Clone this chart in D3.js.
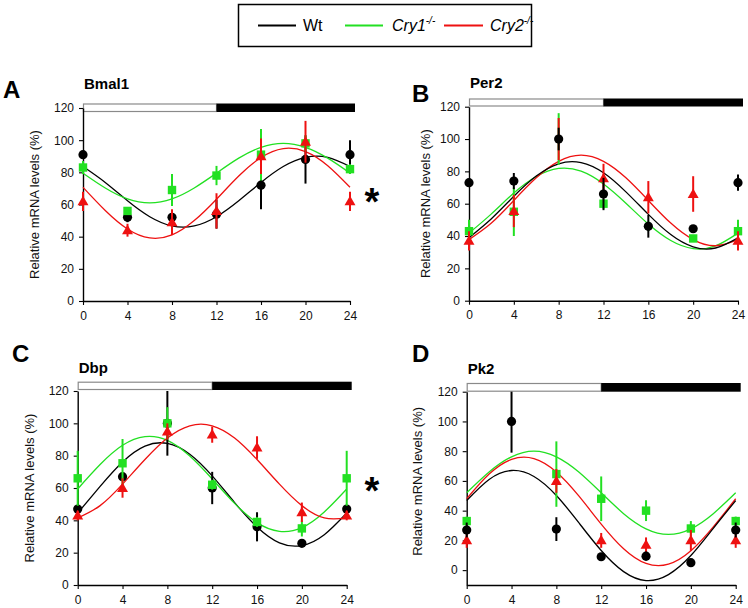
<!DOCTYPE html>
<html><head><meta charset="utf-8">
<script src="https://cdn.jsdelivr.net/npm/d3@7"></script>
<style>
body{margin:0;background:#fff;}
svg{display:block;font-family:"Liberation Sans",Arial,sans-serif;}
</style></head>
<body>
<script>
// ---------- DATA ----------
const hours = [0, 4, 8, 12, 16, 20, 24];
const fitHours = [0, 2, 4, 6, 8, 10, 12, 14, 16, 18, 20, 22, 24];
const genotypes = ["Wt", "Cry1", "Cry2"];
const yTickValues = [0, 20, 40, 60, 80, 100, 120];
const xTickLabels = ["0", "4", "8", "12", "16", "20", "24"];

// Bmal1 (A)  order: Wt, Cry1-/-, Cry2-/-
const bmal1Mean = [[91, 52, 52, 54, 72, 88, 91], [83, 56, 69, 78, 91, 98, 82], [62, 44, 49, 56, 90, 99, 62]];
const bmal1Err  = [[0, 3, 3, 9, 15, 15, 9], [4, 2, 10, 6, 16, 5, 3], [6, 4, 8, 11, 11, 13, 6]];
const bmal1Fit  = [[83.6, 73.7, 62.3, 52.4, 46.7, 46.7, 52.4, 62.3, 73.7, 83.6, 89.3, 89.3, 83.6],
                   [79.5, 70.3, 63.5, 61, 63.5, 70.3, 79.5, 88.8, 95.5, 98, 95.5, 88.8, 79.5],
                   [70.7, 56.3, 44.8, 39.2, 41.1, 50.0, 63.3, 77.7, 89.2, 94.8, 92.9, 84.1, 70.7]];

// Per2 (B)
const per2Mean = [[73, 74, 100, 66, 46, 44.5, 73], [43, 55, 100, 60, 46, 38.5, 43], [37, 55.5, 100, 75.7, 64, 66, 37]];
const per2Err  = [[0, 5, 7, 10, 7, 2, 5], [7, 15, 16, 3, 3, 2, 7], [6, 10, 13, 9, 10, 11, 6]];
const per2Fit  = [[39.0, 50.7, 64.6, 77.1, 84.7, 85.4, 79.1, 67.3, 53.4, 40.9, 33.3, 32.6, 38.9],
                  [41.8, 53.7, 66.6, 76.8, 81.8, 80.1, 72.2, 60.3, 47.4, 37.2, 32.2, 33.9, 41.8],
                  [37.8, 48, 62, 76, 86.2, 90, 86.2, 76, 62, 48, 37.8, 34, 37.8]];

// Dbp (C)
const dbpMean = [[47, 67, 100, 60, 36, 25.8, 47], [66, 75.3, 100, 62, 39, 35, 66], [43, 60, 95, 93, 85, 45, 43]];
const dbpErr  = [[1, 1, 20, 10, 9, 1, 1], [17, 15, 10, 3, 3, 5, 17], [3, 6, 5, 5, 7, 6, 3]];
const dbpFit  = [[44.5, 61, 76.1, 85.9, 87.6, 80.9, 67.5, 51, 35.9, 26.1, 24.4, 31.1, 44.5],
                 [59.4, 74.5, 86.4, 91.8, 89.5, 79.8, 65.6, 50.5, 38.6, 33.2, 35.5, 45.2, 59.4],
                 [41.5, 49.1, 62.4, 77.6, 90.9, 98.5, 98.5, 90.9, 77.6, 62.4, 49.1, 41.5, 41.5]];

// Pk2 (D)
const pk2Mean = [[27, 100, 27.6, 9, 9.4, 5, 27], [33, 100, 64.6, 48, 40, 28, 33], [20, 100, 60, 20, 17, 20, 20]];
const pk2Err  = [[5, 21, 8, 2, 3, 0, 5], [3, 0, 22, 15, 7, 5, 3], [5, 0, 8, 5, 5, 7, 5]];
const pk2Fit  = [[46.8, 61, 67, 63, 50.2, 31.9, 13.2, -1, -7, -3, 9.8, 28.1, 46.8],
                 [52, 66, 76.2, 80, 76.2, 66, 52, 38, 27.8, 24, 27.8, 38, 52],
                 [48, 64.6, 74.5, 75, 66, 49.9, 31, 14.4, 4.5, 4, 13, 29.1, 48]];

// ---------- STYLE / LAYOUT ----------
const colors = ["#000000", "#22e022", "#ee1111"];
const W = 748, H = 608;
const svg = d3.select("body").append("svg").attr("width", W).attr("height", H);

const panels = [
  {letter: "A", title: "Bmal1", mean: bmal1Mean, err: bmal1Err, fit: bmal1Fit, domain: [0, 120],
   x0: 83, x1: 350, yb: 301, yt: 108, barTop: 103.5, barH: 8.5, letterX: 3, letterY: 98, titleY: 89,
   labelX: 34, star: [372, 215], order: [0, 1, 2]},
  {letter: "B", title: "Per2", mean: per2Mean, err: per2Err, fit: per2Fit, domain: [0, 120],
   x0: 469, x1: 738, yb: 300.7, yt: 106.7, barTop: 98.5, barH: 8, letterX: 412, letterY: 102, titleY: 88,
   labelX: 425, star: null, order: [1, 2, 0]},
  {letter: "C", title: "Dbp", mean: dbpMean, err: dbpErr, fit: dbpFit, domain: [0, 120],
   x0: 77.7, x1: 346.7, yb: 585, yt: 391, barTop: 381.7, barH: 8.3, letterX: 12, letterY: 362, titleY: 373,
   labelX: 29, star: [372, 504], order: [0, 1, 2]},
  {letter: "D", title: "Pk2", mean: pk2Mean, err: pk2Err, fit: pk2Fit, domain: [-10, 120],
   x0: 466.7, x1: 735.7, yb: 585, yt: 391.7, barTop: 383, barH: 8.7, letterX: 412, letterY: 362, titleY: 373.5,
   labelX: 417, star: null, order: [1, 2, 0]}
];

function marker(g, k, cx, cy, color) {
  if (k === 0) {
    g.append("circle").attr("cx", cx).attr("cy", cy).attr("r", 4.6).attr("fill", color);
  } else if (k === 1) {
    g.append("rect").attr("x", cx - 4.2).attr("y", cy - 4.2).attr("width", 8.4).attr("height", 8.4).attr("fill", color);
  } else {
    g.append("path").attr("d", d3.symbol().type(d3.symbolTriangle).size(52)())
      .attr("transform", `translate(${cx},${cy + 0.8})`).attr("fill", color);
  }
}

panels.forEach(p => {
  const g = svg.append("g");
  const x = d3.scaleLinear().domain([0, 24]).range([p.x0, p.x1]);
  const y = d3.scaleLinear().domain([p.domain[0], 120]).range([p.yb, p.yt]);

  // letter & title
  g.append("text").attr("x", p.letterX).attr("y", p.letterY).text(p.letter)
    .attr("font-size", 24).attr("font-weight", "bold");
  g.append("text").attr("x", p.x0 + 1).attr("y", p.titleY).text(p.title)
    .attr("font-size", 15).attr("font-weight", "bold");

  // light/dark bar
  const barEnd = p.x1 + 5;
  const mid = x(12);
  g.append("rect").attr("x", p.x0 + 0.5).attr("y", p.barTop + 0.5).attr("width", mid - p.x0 - 0.5)
    .attr("height", p.barH - 1).attr("fill", "#fff").attr("stroke", "#8a8a8a").attr("stroke-width", 1.2);
  g.append("rect").attr("x", mid).attr("y", p.barTop).attr("width", barEnd - mid)
    .attr("height", p.barH).attr("fill", "#000");

  // axes
  const xa = g.append("g").attr("transform", `translate(0,${p.yb})`)
    .call(d3.axisBottom(x).tickValues(hours).tickFormat((d, i) => xTickLabels[i]).tickSize(4).tickSizeOuter(0).tickPadding(6));
  const ya = g.append("g").attr("transform", `translate(${p.x0},0)`)
    .call(d3.axisLeft(y).tickValues(yTickValues).tickSize(4).tickSizeOuter(0).tickPadding(5));
  [xa, ya].forEach(a => {
    a.selectAll("text").attr("font-size", 12).attr("fill", "#111").attr("font-family", '"Liberation Sans",Arial,sans-serif');
    a.select(".domain").attr("stroke-width", 1.4);
    a.selectAll(".tick line").attr("stroke-width", 1.1);
  });

  // y label
  g.append("text").attr("transform", `translate(${p.labelX},${(p.yb + p.yt) / 2 - (p.domain[0] < 0 ? 7 : 0)}) rotate(-90)`)
    .attr("text-anchor", "middle").attr("dominant-baseline", "central")
    .attr("font-size", 13).attr("fill", "#111").text("Relative mRNA levels (%)");

  // fitted curves
  const line = d3.line().x((d, i) => x(fitHours[i])).y(d => y(d)).curve(d3.curveNatural);
  p.order.forEach(k => {
    g.append("path").datum(p.fit[k]).attr("d", line).attr("fill", "none")
      .attr("stroke", colors[k]).attr("stroke-width", 1.3);
  });

  // error bars and markers (a marker fully covered by a later-drawn series at the same value is skipped)
  p.order.forEach((k, oi) => {
    const sg = g.append("g");
    const later = p.order.slice(oi + 1);
    hours.forEach((h, i) => {
      const m = p.mean[k][i], e = p.err[k][i];
      if (e > 0) {
        sg.append("line").attr("x1", x(h)).attr("x2", x(h))
          .attr("y1", y(Math.min(120, m + e))).attr("y2", y(m - e))
          .attr("stroke", colors[k]).attr("stroke-width", 2);
      }
      const covered = later.some(j => j === 0 && p.mean[j][i] === m);
      if (!covered) marker(sg, k, x(h), y(m), colors[k]);
    });
  });

  if (p.star) {
    g.append("text").attr("x", p.star[0]).attr("y", p.star[1]).attr("text-anchor", "middle")
      .attr("font-size", 38).attr("font-weight", "bold").text("*");
  }
});

// legend
const lg = svg.append("g");
lg.append("rect").attr("x", 238.5).attr("y", 4.5).attr("width", 293).attr("height", 42)
  .attr("fill", "#fff").attr("stroke", "#000").attr("stroke-width", 1.5);
const legendItems = [
  {k: 0, x1: 258, x2: 296, tx: 303},
  {k: 1, x1: 345, x2: 383, tx: 392},
  {k: 2, x1: 444, x2: 483, tx: 490}
];
legendItems.forEach(it => {
  lg.append("line").attr("x1", it.x1).attr("x2", it.x2).attr("y1", 25.5).attr("y2", 25.5)
    .attr("stroke", colors[it.k]).attr("stroke-width", 2);
  const t = lg.append("text").attr("x", it.tx).attr("y", 31).attr("font-size", 16);
  if (it.k === 0) {
    t.text(genotypes[0]);
  } else {
    t.append("tspan").attr("font-style", "italic").text(genotypes[it.k]);
    t.append("tspan").attr("font-style", "italic").attr("font-size", 10).attr("dy", -7).text("-/-");
  }
});
</script>
</body></html>
